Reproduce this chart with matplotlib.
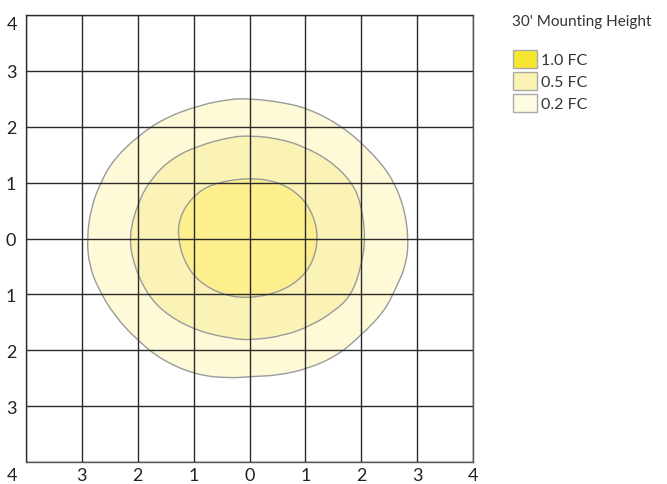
import matplotlib
matplotlib.use("Agg")
import matplotlib.pyplot as plt
from matplotlib.patches import PathPatch, Patch
from matplotlib.path import Path
from matplotlib.transforms import ScaledTranslation

plt.rcParams["font.family"] = ["Lato", "DejaVu Sans"]

# isolux outlines (feet / 10)
outer_x = [-0.33, -0.92, -1.53, -1.99, -2.42, -2.66, -2.84, -2.91, -2.87, -2.71, -2.42, -1.99, -1.53, -0.92,
           -0.33, 0.03, 0.51, 1.05, 1.58, 1.99, 2.41, 2.62, 2.80, 2.85, 2.76, 2.53, 2.12, 1.64, 1.05, 0.51, 0.03]
outer_y = [2.50, 2.38, 2.15, 1.84, 1.43, 1.02, 0.54, 0.00, -0.48, -0.89, -1.38, -1.84, -2.20, -2.45,
           -2.50, -2.47, -2.45, -2.33, -2.09, -1.74, -1.31, -0.89, -0.48, 0.00, 0.59, 1.13, 1.61, 2.02, 2.33, 2.45, 2.50]

mid_x = [-0.33, -0.92, -1.40, -1.76, -1.99, -2.16, -2.07, -1.82, -1.46, -0.92, -0.33, 0.03,
         0.62, 1.10, 1.51, 1.82, 1.99, 2.08, 1.99, 1.82, 1.46, 0.97, 0.51, 0.03]
mid_y = [1.82, 1.66, 1.43, 1.07, 0.66, 0.05, -0.48, -1.02, -1.38, -1.66, -1.79, -1.82,
         -1.74, -1.56, -1.31, -1.02, -0.54, 0.00, 0.66, 1.02, 1.38, 1.65, 1.79, 1.84]

inner_x = [-0.03, -0.69, -1.05, -1.26, -1.28, -1.17, -0.92, -0.46, 0.03, 0.56, 0.92, 1.14, 1.23, 1.15, 0.92, 0.51]
inner_y = [1.09, 0.98, 0.72, 0.36, 0.00, -0.41, -0.77, -1.02, -1.07, -0.95, -0.72, -0.41, 0.00, 0.41, 0.77, 1.02]

levels = ["1.0 FC", "0.5 FC", "0.2 FC"]
fill_colors = ["#fdef8e", "#fbf3b5", "#fefad8"]
legend_colors = ["#f7e630", "#faf3b3", "#fefce2"]
ticks = [-4, -3, -2, -1, 0, 1, 2, 3, 4]


def smooth_outline(xs, ys):
    # closed quadratic bezier: read points are control points, curve runs through midpoints
    pts = list(zip(xs, ys))
    n = len(pts)
    mids = [((pts[i][0] + pts[(i + 1) % n][0]) / 2, (pts[i][1] + pts[(i + 1) % n][1]) / 2) for i in range(n)]
    verts = [mids[-1]]
    codes = [Path.MOVETO]
    for i in range(n):
        verts += [pts[i], mids[i]]
        codes += [Path.CURVE3, Path.CURVE3]
    return Path(verts, codes, closed=False)


fig = plt.figure(figsize=(6.67, 4.85), dpi=100)
ax = fig.add_axes([26 / 667, 22 / 485, 447 / 667, 447 / 485])

shapes = [(outer_x, outer_y, fill_colors[2]), (mid_x, mid_y, fill_colors[1]), (inner_x, inner_y, fill_colors[0])]
for xs, ys, col in shapes:
    ax.add_patch(PathPatch(smooth_outline(xs, ys), facecolor=col, edgecolor="#9a9a9a", lw=1.0, zorder=1))

ax.set_xlim(-4, 4)
ax.set_ylim(-4, 4)
ax.set_xticks(ticks)
ax.set_yticks(ticks)
ax.set_xticklabels([""] + [str(abs(t)) for t in ticks[1:]])
ax.set_yticklabels([""] + [str(abs(t)) for t in ticks[1:-1]] + [""])
ax.tick_params(length=0, labelsize=13, labelcolor="#222222")
ax.tick_params(axis="x", pad=3.5)
ax.tick_params(axis="y", pad=7)
ax.set_axisbelow(False)
ax.grid(True, color="#2a2a2a", lw=1.0, zorder=3)
for sp in ax.spines.values():
    sp.set_color("#555555")
    sp.set_linewidth(1.0)

# corner labels sit off their grid lines
ax.text(-4, 4, "4", fontsize=13, color="#222222", ha="right", va="top",
        transform=ax.transData + ScaledTranslation(-0.09, -0.01, fig.dpi_scale_trans))
ax.text(-4, -4, "4", fontsize=13, color="#222222", ha="right", va="top",
        transform=ax.transData + ScaledTranslation(-0.09, -0.049, fig.dpi_scale_trans))

handles = [Patch(facecolor=c, edgecolor="#aaaaaa", lw=1.0) for c in legend_colors]
fig.text(512 / 667, 1 - 22 / 485, "30' Mounting Height", fontsize=11, color="#333333", va="center", ha="left")
fig.legend(handles, levels, loc="upper left", bbox_to_anchor=(502 / 667, 1 - 40 / 485), frameon=False,
           fontsize=11.5, handlelength=1.5, handleheight=1.35, handletextpad=0.25, labelspacing=0.25,
           labelcolor="#333333", borderaxespad=0.3)

fig.savefig("out.png", dpi=100)
